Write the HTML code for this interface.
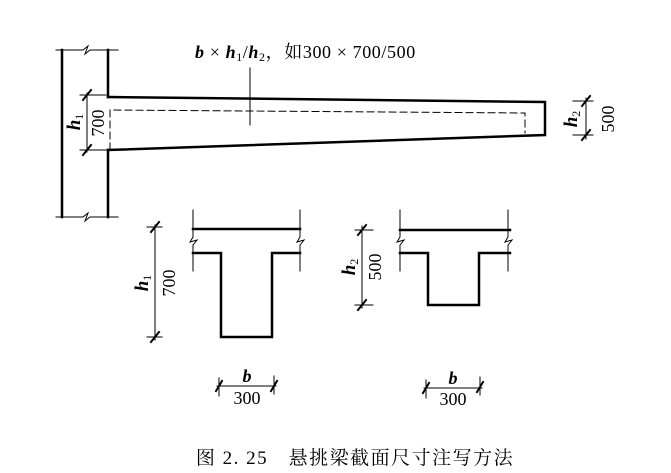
<!DOCTYPE html>
<html><head><meta charset="utf-8"><style>
html,body{margin:0;padding:0;background:#fff;}
svg{display:block;}
text{font-family:"Liberation Serif","Noto Serif CJK SC",serif;fill:#000;}
</style></head><body>
<svg width="671" height="473" viewBox="0 0 671 473" xmlns="http://www.w3.org/2000/svg">
<g stroke="#000" fill="none" stroke-linecap="square">
<line x1="62" y1="50" x2="62" y2="217" stroke-width="2.5"/>
<line x1="108" y1="50" x2="108" y2="97" stroke-width="2.5"/>
<line x1="108" y1="150" x2="108" y2="217" stroke-width="2.5"/>
<polyline points="56,50 83,50 88,46 85,54 90,50 118,50" stroke-width="1"/>
<polyline points="56,217 83,217 88,213 85,221 90,217 118,217" stroke-width="1"/>
<polyline points="108,97 545,102 545,135 108,150" stroke-width="2.5"/>
<polyline points="110,150 110,110 525,113 525,133" stroke-width="1" stroke-dasharray="7,4"/>
<line x1="250" y1="68" x2="250" y2="125" stroke-width="1"/>
<line x1="87" y1="93" x2="87" y2="152" stroke-width="1"/>
<line x1="80" y1="95" x2="106" y2="95" stroke-width="1"/>
<line x1="80" y1="150" x2="106" y2="150" stroke-width="1"/>
<line x1="83" y1="100" x2="91" y2="90" stroke-width="2"/>
<line x1="83" y1="155" x2="91" y2="145" stroke-width="2"/>
<line x1="586" y1="98" x2="586" y2="139" stroke-width="1"/>
<line x1="573" y1="101" x2="593" y2="101" stroke-width="1"/>
<line x1="573" y1="135" x2="593" y2="135" stroke-width="1"/>
<line x1="582" y1="106" x2="590" y2="96" stroke-width="2"/>
<line x1="582" y1="140" x2="590" y2="130" stroke-width="2"/>
<line x1="193" y1="229" x2="300" y2="229" stroke-width="2.5"/>
<polyline points="193,210 193,237 190,242 197,240 193,245 193,271" stroke-width="1"/>
<polyline points="300,210 300,237 297,242 304,240 300,245 300,271" stroke-width="1"/>
<polyline points="193,253 221,253 221,337 272,337 272,253 300,253" stroke-width="2.5"/>
<line x1="155" y1="225" x2="155" y2="340" stroke-width="1"/>
<line x1="147" y1="227" x2="162" y2="227" stroke-width="1"/>
<line x1="147" y1="337" x2="162" y2="337" stroke-width="1"/>
<line x1="151" y1="232" x2="159" y2="222" stroke-width="2"/>
<line x1="151" y1="342" x2="159" y2="332" stroke-width="2"/>
<line x1="217" y1="386" x2="276" y2="386" stroke-width="1"/>
<line x1="219" y1="378" x2="219" y2="396" stroke-width="1"/>
<line x1="274" y1="376" x2="274" y2="394" stroke-width="1"/>
<line x1="216" y1="391" x2="222" y2="381" stroke-width="2"/>
<line x1="271" y1="391" x2="277" y2="381" stroke-width="2"/>
<line x1="400" y1="230" x2="510" y2="230" stroke-width="2.5"/>
<polyline points="400,210 400,237 397,242 404,240 400,245 400,271" stroke-width="1"/>
<polyline points="508,210 508,237 505,242 512,240 508,245 508,271" stroke-width="1"/>
<polyline points="400,253 428,253 428,305 479,305 479,253 510,253" stroke-width="2.5"/>
<line x1="362" y1="226" x2="362" y2="308" stroke-width="1"/>
<line x1="355" y1="230" x2="373" y2="230" stroke-width="1"/>
<line x1="355" y1="305" x2="373" y2="305" stroke-width="1"/>
<line x1="358" y1="235" x2="366" y2="225" stroke-width="2"/>
<line x1="358" y1="310" x2="366" y2="300" stroke-width="2"/>
<line x1="424" y1="388" x2="482" y2="388" stroke-width="1"/>
<line x1="426" y1="380" x2="426" y2="398" stroke-width="1"/>
<line x1="480" y1="377" x2="480" y2="395" stroke-width="1"/>
<line x1="423" y1="393" x2="429" y2="383" stroke-width="2"/>
<line x1="477" y1="392" x2="483" y2="382" stroke-width="2"/>
</g>
<text x="195" y="58" font-size="18" letter-spacing="0.6"><tspan font-style="italic" font-weight="bold">b</tspan> × <tspan font-style="italic" font-weight="bold">h</tspan><tspan font-size="12" dy="3">1</tspan><tspan dy="-3">/</tspan><tspan font-style="italic" font-weight="bold">h</tspan><tspan font-size="12" dy="3">2</tspan><tspan dy="-3">，如300 × 700/500</tspan></text>
<text transform="translate(80,122) rotate(-90)" font-size="19" text-anchor="middle"><tspan font-style="italic" font-weight="bold">h</tspan><tspan font-size="12" dy="3">1</tspan></text>
<text transform="translate(104,123) rotate(-90)" font-size="18" text-anchor="middle">700</text>
<text transform="translate(577,119) rotate(-90)" font-size="19" text-anchor="middle"><tspan font-style="italic" font-weight="bold">h</tspan><tspan font-size="12" dy="3">2</tspan></text>
<text transform="translate(614,119) rotate(-90)" font-size="18" text-anchor="middle">500</text>
<text transform="translate(148,283) rotate(-90)" font-size="19" text-anchor="middle"><tspan font-style="italic" font-weight="bold">h</tspan><tspan font-size="12" dy="3">1</tspan></text>
<text transform="translate(175,283) rotate(-90)" font-size="18" text-anchor="middle">700</text>
<text transform="translate(355,267) rotate(-90)" font-size="19" text-anchor="middle"><tspan font-style="italic" font-weight="bold">h</tspan><tspan font-size="12" dy="3">2</tspan></text>
<text transform="translate(381,267) rotate(-90)" font-size="18" text-anchor="middle">500</text>
<text x="247" y="382" font-size="18" text-anchor="middle" font-style="italic" font-weight="bold">b</text>
<text x="247" y="404" font-size="18" text-anchor="middle">300</text>
<text x="453" y="384" font-size="18" text-anchor="middle" font-style="italic" font-weight="bold">b</text>
<text x="453" y="405" font-size="18" text-anchor="middle">300</text>
<text x="355" y="464" font-size="19" text-anchor="middle" letter-spacing="1.5">图 2. 25　悬挑梁截面尺寸注写方法</text>
</svg>
</body></html>
